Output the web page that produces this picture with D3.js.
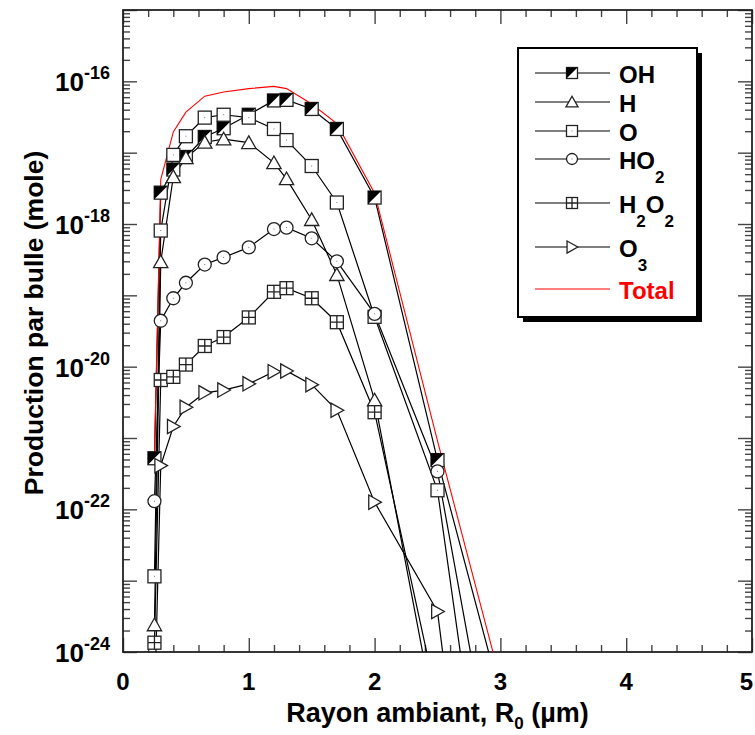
<!DOCTYPE html>
<html>
<head>
<meta charset="utf-8">
<script src="https://cdn.jsdelivr.net/npm/d3@7"></script>
<style>
  body { margin: 0; background: #fff; }
  text { font-family: "Liberation Sans", Arial, sans-serif; font-weight: bold; fill: #000; }
</style>
</head>
<body>
<svg id="chart" width="755" height="735"></svg>
<script>
// ambient radius R0 (µm)
const radius = [0.25, 0.3, 0.4, 0.5, 0.65, 0.8, 1.0, 1.2, 1.3, 1.5, 1.7, 2.0, 2.5, 3.0];

// production per bubble (mole)
const ohValues   = [5.2e-22, 2.75e-18, 5.8e-18, 8.7e-18, 1.66e-17, 2.2e-17, 3.4e-17, 5.4e-17, 5.5e-17, 4.1e-17, 2.15e-17, 2.35e-18, 4.9e-22, 2.4e-25];
const hValues    = [2.4e-24, 2.95e-19, 4.6e-18, 8.5e-18, 1.4e-17, 1.55e-17, 1.38e-17, 7.2e-18, 4.3e-18, 1.15e-18, 1.95e-19, 3.4e-21, 8e-26, null];
const oValues    = [1.15e-23, 8.1e-19, 9.3e-18, 1.7e-17, 3.1e-17, 3.4e-17, 3.1e-17, 2.15e-17, 1.5e-17, 6.5e-18, 2.0e-18, 5.0e-20, 1.85e-22, 1e-28];
const ho2Values  = [1.3e-22, 4.4e-20, 9.1e-20, 1.5e-19, 2.7e-19, 3.4e-19, 4.7e-19, 8.5e-19, 8.9e-19, 6.3e-19, 3.0e-19, 5.5e-20, 3.4e-22, 5e-27];
const h2o2Values = [1.35e-24, 6.5e-21, 7.2e-21, 1.07e-20, 1.95e-20, 2.6e-20, 4.9e-20, 1.12e-19, 1.26e-19, 9.1e-20, 4.2e-20, 2.3e-21, 2e-25, null];
const o3Values   = [1.5e-25, 4.1e-22, 1.45e-21, 2.7e-21, 4.3e-21, 4.7e-21, 5.75e-21, 8.5e-21, 8.7e-21, 5.6e-21, 2.45e-21, 1.26e-22, 3.7e-24, 4e-31];
const totalValues = [6e-22, 4.2e-18, 1.95e-17, 3.7e-17, 6.2e-17, 7.1e-17, 7.9e-17, 8.5e-17, 7.9e-17, 4.8e-17, 2.55e-17, 2.7e-18, 9.1e-22, 4e-25];

const xTickValues = [0, 1, 2, 3, 4, 5];
const yLabelExps = [-16, -18, -20, -22, -24];

const series = [
  { name: 'OH', sub: [['OH', 0]], values: ohValues, marker: 'halfsq' },
  { name: 'H', sub: [['H', 0]], values: hValues, marker: 'tri' },
  { name: 'O', sub: [['O', 0]], values: oValues, marker: 'sq' },
  { name: 'HO2', sub: [['HO', 0], ['2', 1]], values: ho2Values, marker: 'circ' },
  { name: 'H2O2', sub: [['H', 0], ['2', 1], ['O', 0], ['2', 1]], values: h2o2Values, marker: 'grid' },
  { name: 'O3', sub: [['O', 0], ['3', 1]], values: o3Values, marker: 'rtri' }
];

const margin = { top: 10, right: 3, bottom: 83, left: 123 };
const width = 755 - margin.left - margin.right;
const height = 735 - margin.top - margin.bottom;

const svg = d3.select('#chart');
const g = svg.append('g').attr('transform', `translate(${margin.left},${margin.top})`);

const x = d3.scaleLinear().domain([0, 5]).range([0, width]);
const y = d3.scaleLog().domain([1e-24, 1e-15]).range([height, 0]);

svg.append('defs').append('clipPath').attr('id', 'plotClip')
  .append('rect').attr('x', 0).attr('y', 0).attr('width', width).attr('height', height);

// ticks
const majorY = d3.range(-24, -14).map(e => Math.pow(10, e));
const minorY = [];
d3.range(-24, -15).forEach(e => {
  for (let m = 2; m <= 9; m++) minorY.push(m * Math.pow(10, e));
});
const minorX = d3.range(0, 26).map(i => i * 0.2).filter(v => Math.abs(v - Math.round(v)) > 1e-6);

const styleAxis = sel => {
  sel.select('.domain').remove();
  sel.selectAll('.tick line').attr('stroke', '#444').attr('stroke-width', 1.4);
  sel.selectAll('.tick text').remove();
};

g.append('g').call(d3.axisLeft(y).tickValues(majorY).tickSize(-14).tickFormat('')).call(styleAxis);
g.append('g').call(d3.axisLeft(y).tickValues(minorY).tickSize(-7).tickFormat('')).call(styleAxis);
g.append('g').attr('transform', `translate(${width},0)`)
  .call(d3.axisRight(y).tickValues(majorY).tickSize(-14).tickFormat('')).call(styleAxis);
g.append('g').attr('transform', `translate(${width},0)`)
  .call(d3.axisRight(y).tickValues(minorY).tickSize(-7).tickFormat('')).call(styleAxis);
g.append('g').attr('transform', `translate(0,${height})`)
  .call(d3.axisBottom(x).tickValues(xTickValues).tickSize(-14).tickFormat('')).call(styleAxis);
g.append('g').attr('transform', `translate(0,${height})`)
  .call(d3.axisBottom(x).tickValues(minorX).tickSize(-7).tickFormat('')).call(styleAxis);
g.append('g')
  .call(d3.axisTop(x).tickValues(xTickValues).tickSize(-14).tickFormat('')).call(styleAxis);
g.append('g')
  .call(d3.axisTop(x).tickValues(minorX).tickSize(-7).tickFormat('')).call(styleAxis);

// frame
g.append('rect').attr('width', width).attr('height', height)
  .attr('fill', 'none').attr('stroke', '#222').attr('stroke-width', 1.8);

// x tick labels
g.selectAll('.xlab').data(xTickValues).enter().append('text')
  .attr('class', 'xlab')
  .attr('x', d => d === 5 ? x(d) + 1 : x(d)).attr('y', height + 38)
  .attr('text-anchor', d => d === 5 ? 'end' : 'middle').attr('font-size', 24)
  .text(d => d);

// y tick labels (10 with superscript)
const ylab = g.selectAll('.ylab').data(yLabelExps).enter().append('text')
  .attr('class', 'ylab')
  .attr('x', -13).attr('y', d => y(Math.pow(10, d)) + 10)
  .attr('text-anchor', 'end').attr('font-size', 26);
ylab.append('tspan').text('10');
ylab.append('tspan').attr('dy', -12).attr('font-size', 18).text(d => '-' + Math.abs(d));

// axis titles
const xt = svg.append('text')
  .attr('x', margin.left + x(2.5)).attr('y', 722)
  .attr('text-anchor', 'middle').attr('font-size', 27);
xt.append('tspan').text('Rayon ambiant, R');
xt.append('tspan').attr('dy', 7).attr('font-size', 17).text('0');
xt.append('tspan').attr('dy', -7).text(' (µm)');

svg.append('text')
  .attr('transform', `translate(43,${margin.top + height / 2 - 8}) rotate(-90)`)
  .attr('text-anchor', 'middle').attr('font-size', 26.5)
  .text('Production par bulle (mole)');

// markers
function drawMarker(sel, type, s) {
  const stroke = '#222';
  const sw = 1.3;
  if (type === 'halfsq') {
    sel.append('rect').attr('x', -s).attr('y', -s).attr('width', 2 * s).attr('height', 2 * s)
      .attr('fill', '#fff').attr('stroke', stroke).attr('stroke-width', sw);
    sel.append('path').attr('d', `M${-s},${-s}L${s},${-s}L${-s},${s}Z`).attr('fill', '#000');
  } else if (type === 'sq') {
    sel.append('rect').attr('x', -s).attr('y', -s).attr('width', 2 * s).attr('height', 2 * s)
      .attr('fill', '#fff').attr('stroke', stroke).attr('stroke-width', sw);
    sel.append('rect').attr('x', -0.5).attr('y', -0.5).attr('width', 1).attr('height', 1).attr('fill', '#777');
  } else if (type === 'grid') {
    sel.append('rect').attr('x', -s).attr('y', -s).attr('width', 2 * s).attr('height', 2 * s)
      .attr('fill', '#fff').attr('stroke', stroke).attr('stroke-width', sw);
    sel.append('path').attr('d', `M0,${-s}V${s}M${-s},0H${s}`).attr('stroke', stroke).attr('stroke-width', sw);
  } else if (type === 'circ') {
    sel.append('circle').attr('r', s).attr('fill', '#fff').attr('stroke', stroke).attr('stroke-width', sw);
    sel.append('rect').attr('x', -0.5).attr('y', -0.5).attr('width', 1).attr('height', 1).attr('fill', '#777');
  } else if (type === 'tri') {
    sel.append('path').attr('d', `M0,${-s * 1.05}L${s * 1.1},${s * 0.9}L${-s * 1.1},${s * 0.9}Z`)
      .attr('fill', '#fff').attr('stroke', stroke).attr('stroke-width', sw);
  } else if (type === 'rtri') {
    sel.append('path').attr('d', `M${-s * 0.9},${-s * 1.1}L${s * 1.05},0L${-s * 0.9},${s * 1.1}Z`)
      .attr('fill', '#fff').attr('stroke', stroke).attr('stroke-width', sw);
  }
}

const plot = g.append('g').attr('clip-path', 'url(#plotClip)');

const line = d3.line()
  .defined(d => d[1] != null)
  .x(d => x(d[0]))
  .y(d => y(d[1]));

series.forEach(s => {
  const pts = radius.map((r, i) => [r, s.values[i]]);
  plot.append('path').datum(pts)
    .attr('d', line).attr('fill', 'none')
    .attr('stroke', '#000').attr('stroke-width', 1.2);
});

plot.append('path').datum(radius.map((r, i) => [r, totalValues[i]]))
  .attr('d', line).attr('fill', 'none')
  .attr('stroke', '#f00').attr('stroke-width', 1.1);

series.forEach(s => {
  const pts = radius.map((r, i) => [r, s.values[i]]).filter(d => d[1] != null);
  plot.selectAll(null).data(pts).enter().append('g')
    .attr('transform', d => `translate(${x(d[0])},${y(d[1])})`)
    .each(function () { drawMarker(d3.select(this), s.marker, 6.5); });
});

// legend
const legend = svg.append('g').attr('transform', 'translate(518,48)');
const lw = 179, lh = 269;
legend.append('rect').attr('x', 5).attr('y', 5).attr('width', lw).attr('height', lh).attr('fill', '#000');
legend.append('rect').attr('width', lw).attr('height', lh)
  .attr('fill', '#fff').attr('stroke', '#000').attr('stroke-width', 2);

const rowY = [25, 54, 83, 111, 155, 199];
series.forEach((s, i) => {
  const row = legend.append('g').attr('transform', `translate(0,${rowY[i]})`);
  row.append('line').attr('x1', 17).attr('x2', 92).attr('stroke', '#000').attr('stroke-width', 1.2);
  drawMarker(row.append('g').attr('transform', 'translate(54,0)'), s.marker, 5.5);
  const t = row.append('text').attr('x', 101).attr('y', 10).attr('font-size', 24);
  let low = false;
  s.sub.forEach(([str, isSub]) => {
    const ts = t.append('tspan').text(str);
    if (isSub && !low) { ts.attr('dy', 14).attr('font-size', 17); low = true; }
    else if (!isSub && low) { ts.attr('dy', -14); low = false; }
  });
});
const totRow = legend.append('g').attr('transform', 'translate(0,241)');
totRow.append('line').attr('x1', 17).attr('x2', 92).attr('stroke', '#f00').attr('stroke-width', 1.1);
totRow.append('text').attr('x', 101).attr('y', 10).attr('font-size', 24)
  .style('fill', '#f00').text('Total');
</script>
</body>
</html>
